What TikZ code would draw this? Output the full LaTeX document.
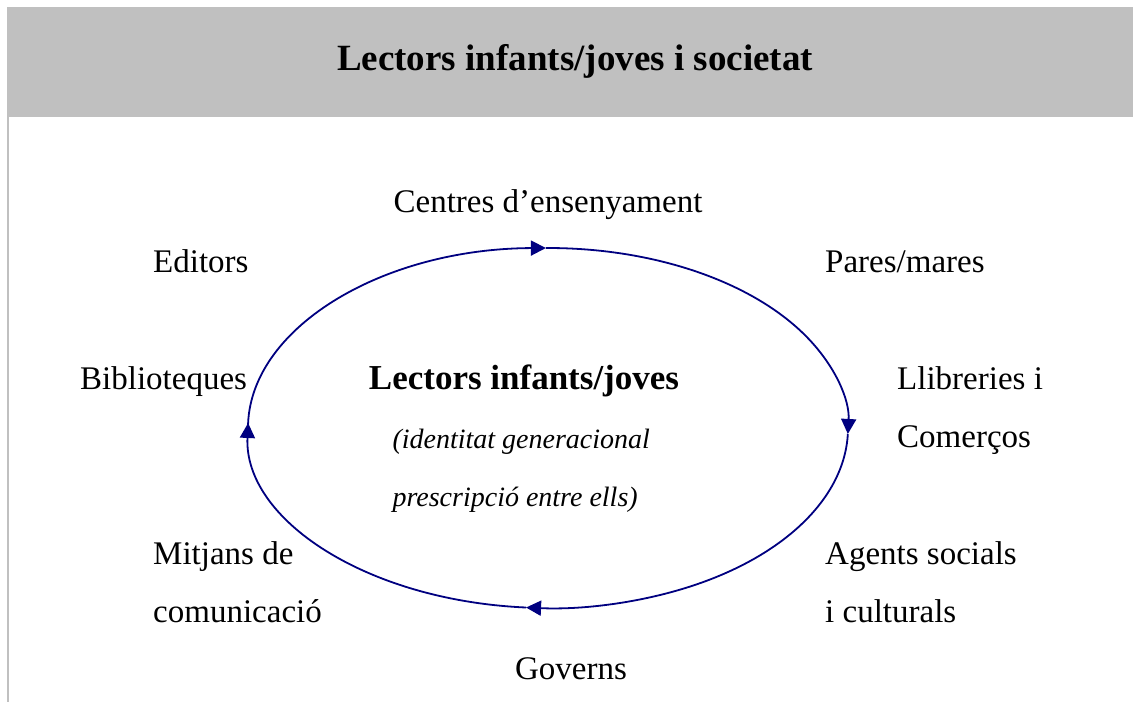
\documentclass[tikz,border=0pt]{standalone}
\usepackage{fontspec}
\setmainfont{Liberation Serif}
\usepackage{tikz}
\usetikzlibrary{arrows.meta,positioning}
\definecolor{navyline}{RGB}{0,0,128}
\definecolor{headgray}{RGB}{192,192,192}

\tikzset{
  agent/.style={font=\fontsize{33}{58}\selectfont, inner sep=0pt, align=left},
  cyclearc/.style={draw=navyline, line width=1.8pt, -{Triangle[length=15pt,width=15pt]}}
}

\begin{document}
\begin{tikzpicture}[x=1pt,y=1pt]
    \useasboundingbox (0,0) rectangle (1138,-702);
    % Header band
    \fill[headgray] (7,-7) rectangle (1133,-117);
    \draw[headgray, line width=1.5pt] (8,-117) -- (8,-702);
    \node[font=\fontsize{37}{44}\selectfont\bfseries, anchor=base] (title) at (575,-70) {Lectors infants/joves i societat};

    % Cycle (clockwise, four arrowed arcs)
    \coordinate (hub) at (548,-428);
    \draw[cyclearc] ([shift={(180:300 and 180)}]hub) arc[start angle=180, end angle=90.4, x radius=300, y radius=180];
    \draw[cyclearc] ([shift={(90.4:300 and 180)}]hub) arc[start angle=90.4, end angle=-1.9, x radius=300, y radius=180];
    \draw[cyclearc] ([shift={(-1.9:300 and 180)}]hub) arc[start angle=-1.9, end angle=-94.2, x radius=300, y radius=180];
    \draw[cyclearc] ([shift={(-94.2:300 and 180)}]hub) arc[start angle=-94.2, end angle=-181.6, x radius=300, y radius=180];

    % Centre (multi-line nodes: base = last line)
    \node[font=\fontsize{35}{42}\selectfont\bfseries, anchor=base] (readers) at (524,-389) {Lectors infants/joves};
    \node[font=\fontsize{28}{58}\selectfont\itshape, anchor=base west, align=left] (identity) at (389,-506) {(identitat generacional\\prescripció entre ells)};

    % Agents around
    \node[agent, anchor=base] (schools) at (548,-212) {Centres d’ensenyament};
    \node[agent, anchor=base west] (editors) at (153,-272) {Editors};
    \node[agent, anchor=base west] (parents) at (825,-272) {Pares/mares};
    \node[agent, anchor=base west] (libraries) at (80,-389) {Biblioteques};
    \node[agent, anchor=base west] (shops) at (897,-447) {Llibreries i\\Comerços};
    \node[agent, anchor=base west] (media) at (153,-622) {Mitjans de\\comunicació};
    \node[agent, anchor=base west] (social) at (825,-622) {Agents socials\\i culturals};
    \node[agent, anchor=base] (govern) at (571,-679) {Governs};
\end{tikzpicture}
\end{document}
